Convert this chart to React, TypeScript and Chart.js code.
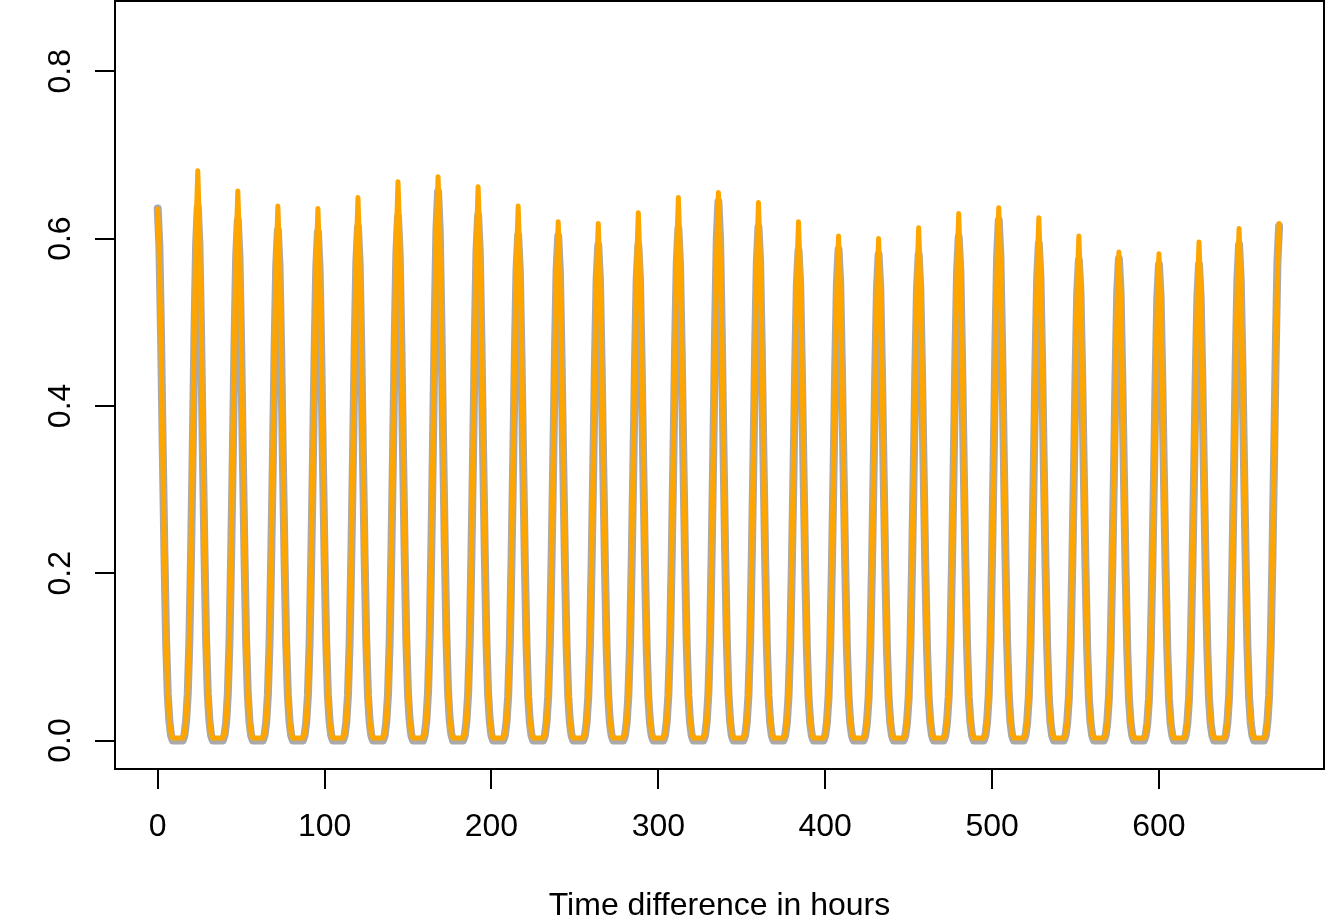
import React, { useEffect, useRef } from "react";
import { Chart, registerables } from "chart.js";

Chart.register(...registerables);

// ---- data ----
const LAST_HOUR = 672;
const xTickValues = [0, 100, 200, 300, 400, 500, 600];
const yTickValues = [0, 0.2, 0.4, 0.6, 0.8];
const yTickLabels = ["0.0", "0.2", "0.4", "0.6", "0.8"];
const xTitle = "Time difference in hours";

// hourly values around each daily peak (peak hour = 24 * row index),
// each row covers hours peak-8 ... peak+8; other hours sit at the trough value
const orangeTrough = 0.003;
const orangeRows: number[][] = [
  [0.008, 0.025, 0.057, 0.121, 0.222, 0.343, 0.470, 0.575, 0.635, 0.575, 0.470, 0.343, 0.222, 0.121, 0.057, 0.025, 0.008],
  [0.008, 0.027, 0.061, 0.129, 0.238, 0.368, 0.504, 0.616, 0.681, 0.616, 0.504, 0.368, 0.238, 0.129, 0.061, 0.027, 0.008],
  [0.008, 0.026, 0.059, 0.125, 0.230, 0.355, 0.486, 0.595, 0.657, 0.595, 0.486, 0.355, 0.230, 0.125, 0.059, 0.026, 0.008],
  [0.008, 0.026, 0.058, 0.121, 0.224, 0.345, 0.473, 0.578, 0.639, 0.578, 0.473, 0.345, 0.224, 0.121, 0.058, 0.026, 0.008],
  [0.008, 0.025, 0.057, 0.121, 0.223, 0.343, 0.471, 0.576, 0.636, 0.576, 0.471, 0.343, 0.223, 0.121, 0.057, 0.025, 0.008],
  [0.008, 0.026, 0.058, 0.123, 0.227, 0.350, 0.480, 0.587, 0.649, 0.587, 0.480, 0.350, 0.227, 0.123, 0.058, 0.026, 0.008],
  [0.008, 0.027, 0.060, 0.127, 0.234, 0.361, 0.494, 0.605, 0.668, 0.605, 0.494, 0.361, 0.234, 0.127, 0.060, 0.027, 0.008],
  [0.008, 0.027, 0.061, 0.128, 0.236, 0.364, 0.499, 0.610, 0.674, 0.610, 0.499, 0.364, 0.236, 0.128, 0.061, 0.027, 0.008],
  [0.008, 0.026, 0.060, 0.126, 0.232, 0.357, 0.490, 0.599, 0.662, 0.599, 0.490, 0.357, 0.232, 0.126, 0.060, 0.026, 0.008],
  [0.008, 0.026, 0.058, 0.121, 0.224, 0.345, 0.473, 0.578, 0.639, 0.578, 0.473, 0.345, 0.224, 0.121, 0.058, 0.026, 0.008],
  [0.007, 0.025, 0.056, 0.118, 0.217, 0.335, 0.459, 0.561, 0.620, 0.561, 0.459, 0.335, 0.217, 0.118, 0.056, 0.025, 0.007],
  [0.007, 0.025, 0.056, 0.117, 0.216, 0.334, 0.457, 0.559, 0.618, 0.559, 0.457, 0.334, 0.216, 0.117, 0.056, 0.025, 0.007],
  [0.008, 0.025, 0.057, 0.120, 0.221, 0.341, 0.467, 0.571, 0.631, 0.571, 0.467, 0.341, 0.221, 0.120, 0.057, 0.025, 0.008],
  [0.008, 0.026, 0.058, 0.123, 0.227, 0.350, 0.480, 0.587, 0.649, 0.587, 0.480, 0.350, 0.227, 0.123, 0.058, 0.026, 0.008],
  [0.008, 0.026, 0.059, 0.124, 0.229, 0.354, 0.485, 0.593, 0.655, 0.593, 0.485, 0.354, 0.229, 0.124, 0.059, 0.026, 0.008],
  [0.008, 0.026, 0.058, 0.122, 0.225, 0.347, 0.476, 0.582, 0.643, 0.582, 0.476, 0.347, 0.225, 0.122, 0.058, 0.026, 0.008],
  [0.007, 0.025, 0.056, 0.118, 0.217, 0.335, 0.459, 0.561, 0.620, 0.561, 0.459, 0.335, 0.217, 0.118, 0.056, 0.025, 0.007],
  [0.007, 0.024, 0.054, 0.115, 0.211, 0.326, 0.446, 0.546, 0.603, 0.546, 0.446, 0.326, 0.211, 0.115, 0.054, 0.024, 0.007],
  [0.007, 0.024, 0.054, 0.114, 0.210, 0.324, 0.444, 0.543, 0.600, 0.543, 0.444, 0.324, 0.210, 0.114, 0.054, 0.024, 0.007],
  [0.007, 0.025, 0.055, 0.116, 0.215, 0.331, 0.454, 0.555, 0.613, 0.555, 0.454, 0.331, 0.215, 0.116, 0.055, 0.025, 0.007],
  [0.008, 0.025, 0.057, 0.120, 0.221, 0.340, 0.466, 0.570, 0.630, 0.570, 0.466, 0.340, 0.221, 0.120, 0.057, 0.025, 0.008],
  [0.008, 0.025, 0.057, 0.121, 0.223, 0.344, 0.471, 0.576, 0.637, 0.576, 0.471, 0.344, 0.223, 0.121, 0.057, 0.025, 0.008],
  [0.008, 0.025, 0.056, 0.119, 0.219, 0.338, 0.463, 0.566, 0.625, 0.566, 0.463, 0.338, 0.219, 0.119, 0.056, 0.025, 0.008],
  [0.007, 0.024, 0.054, 0.115, 0.211, 0.326, 0.446, 0.546, 0.603, 0.546, 0.446, 0.326, 0.211, 0.115, 0.054, 0.024, 0.007],
  [0.007, 0.023, 0.053, 0.111, 0.204, 0.315, 0.432, 0.529, 0.584, 0.529, 0.432, 0.315, 0.204, 0.111, 0.053, 0.023, 0.007],
  [0.007, 0.023, 0.052, 0.111, 0.204, 0.314, 0.431, 0.527, 0.582, 0.527, 0.431, 0.314, 0.204, 0.111, 0.052, 0.023, 0.007],
  [0.007, 0.024, 0.054, 0.113, 0.209, 0.322, 0.441, 0.539, 0.596, 0.539, 0.441, 0.322, 0.209, 0.113, 0.054, 0.024, 0.007],
  [0.007, 0.024, 0.055, 0.116, 0.214, 0.330, 0.453, 0.554, 0.612, 0.554, 0.453, 0.330, 0.214, 0.116, 0.055, 0.024, 0.007],
  [0.007, 0.025, 0.056, 0.117, 0.216, 0.334, 0.457, 0.559, 0.618, 0.559, 0.457, 0.334, 0.216, 0.117, 0.056, 0.025, 0.007],
];

const grayTrough = 0;
const grayRows: number[][] = [
  [0.006, 0.023, 0.056, 0.121, 0.226, 0.350, 0.483, 0.591, 0.636, 0.591, 0.483, 0.350, 0.226, 0.121, 0.056, 0.023, 0.006],
  [0.006, 0.023, 0.056, 0.121, 0.226, 0.351, 0.485, 0.593, 0.638, 0.593, 0.485, 0.351, 0.226, 0.121, 0.056, 0.023, 0.006],
  [0.006, 0.022, 0.055, 0.118, 0.221, 0.342, 0.473, 0.578, 0.622, 0.578, 0.473, 0.342, 0.221, 0.118, 0.055, 0.022, 0.006],
  [0.006, 0.022, 0.054, 0.116, 0.217, 0.336, 0.464, 0.567, 0.610, 0.567, 0.464, 0.336, 0.217, 0.116, 0.054, 0.022, 0.006],
  [0.006, 0.022, 0.054, 0.116, 0.216, 0.334, 0.462, 0.565, 0.608, 0.565, 0.462, 0.334, 0.216, 0.116, 0.054, 0.022, 0.006],
  [0.006, 0.022, 0.054, 0.117, 0.218, 0.338, 0.467, 0.571, 0.614, 0.571, 0.467, 0.338, 0.218, 0.117, 0.054, 0.022, 0.006],
  [0.006, 0.023, 0.055, 0.119, 0.222, 0.344, 0.476, 0.582, 0.626, 0.582, 0.476, 0.344, 0.222, 0.119, 0.055, 0.023, 0.006],
  [0.007, 0.024, 0.058, 0.125, 0.233, 0.361, 0.499, 0.610, 0.656, 0.610, 0.499, 0.361, 0.233, 0.125, 0.058, 0.024, 0.007],
  [0.006, 0.023, 0.055, 0.119, 0.223, 0.345, 0.477, 0.584, 0.628, 0.584, 0.477, 0.345, 0.223, 0.119, 0.055, 0.023, 0.006],
  [0.006, 0.022, 0.053, 0.115, 0.214, 0.332, 0.459, 0.562, 0.604, 0.562, 0.459, 0.332, 0.214, 0.115, 0.053, 0.022, 0.006],
  [0.006, 0.022, 0.053, 0.115, 0.214, 0.332, 0.458, 0.561, 0.603, 0.561, 0.458, 0.332, 0.214, 0.115, 0.053, 0.022, 0.006],
  [0.006, 0.021, 0.052, 0.112, 0.210, 0.326, 0.450, 0.551, 0.592, 0.551, 0.450, 0.326, 0.210, 0.112, 0.052, 0.021, 0.006],
  [0.006, 0.021, 0.052, 0.112, 0.210, 0.326, 0.450, 0.551, 0.592, 0.551, 0.450, 0.326, 0.210, 0.112, 0.052, 0.021, 0.006],
  [0.006, 0.022, 0.054, 0.116, 0.217, 0.337, 0.465, 0.569, 0.612, 0.569, 0.465, 0.337, 0.217, 0.116, 0.054, 0.022, 0.006],
  [0.006, 0.023, 0.057, 0.122, 0.229, 0.354, 0.489, 0.599, 0.644, 0.599, 0.489, 0.354, 0.229, 0.122, 0.057, 0.023, 0.006],
  [0.006, 0.022, 0.054, 0.117, 0.218, 0.338, 0.467, 0.571, 0.614, 0.571, 0.467, 0.338, 0.218, 0.117, 0.054, 0.022, 0.006],
  [0.006, 0.021, 0.052, 0.111, 0.208, 0.322, 0.445, 0.545, 0.586, 0.545, 0.445, 0.322, 0.208, 0.111, 0.052, 0.021, 0.006],
  [0.006, 0.021, 0.052, 0.112, 0.208, 0.323, 0.446, 0.546, 0.587, 0.546, 0.446, 0.323, 0.208, 0.112, 0.052, 0.021, 0.006],
  [0.006, 0.021, 0.051, 0.110, 0.206, 0.320, 0.442, 0.540, 0.581, 0.540, 0.442, 0.320, 0.206, 0.110, 0.051, 0.021, 0.006],
  [0.006, 0.021, 0.051, 0.110, 0.206, 0.320, 0.442, 0.540, 0.581, 0.540, 0.442, 0.320, 0.206, 0.110, 0.051, 0.021, 0.006],
  [0.006, 0.022, 0.053, 0.114, 0.214, 0.331, 0.458, 0.560, 0.602, 0.560, 0.458, 0.331, 0.214, 0.114, 0.053, 0.022, 0.006],
  [0.006, 0.022, 0.055, 0.118, 0.221, 0.342, 0.473, 0.578, 0.622, 0.578, 0.473, 0.342, 0.221, 0.118, 0.055, 0.022, 0.006],
  [0.006, 0.021, 0.052, 0.113, 0.211, 0.327, 0.451, 0.552, 0.594, 0.552, 0.451, 0.327, 0.211, 0.113, 0.052, 0.021, 0.006],
  [0.006, 0.021, 0.051, 0.109, 0.204, 0.316, 0.436, 0.534, 0.574, 0.534, 0.436, 0.316, 0.204, 0.109, 0.051, 0.021, 0.006],
  [0.006, 0.021, 0.051, 0.109, 0.204, 0.317, 0.438, 0.536, 0.576, 0.536, 0.438, 0.317, 0.204, 0.109, 0.051, 0.021, 0.006],
  [0.006, 0.020, 0.050, 0.108, 0.202, 0.313, 0.432, 0.529, 0.569, 0.529, 0.432, 0.313, 0.202, 0.108, 0.050, 0.020, 0.006],
  [0.006, 0.020, 0.050, 0.108, 0.202, 0.313, 0.432, 0.529, 0.569, 0.529, 0.432, 0.313, 0.202, 0.108, 0.050, 0.020, 0.006],
  [0.006, 0.021, 0.052, 0.113, 0.211, 0.326, 0.451, 0.551, 0.593, 0.551, 0.451, 0.326, 0.211, 0.113, 0.052, 0.021, 0.006],
  [0.006, 0.022, 0.054, 0.117, 0.218, 0.338, 0.467, 0.572, 0.615, 0.572, 0.467, 0.338, 0.218, 0.117, 0.054, 0.022, 0.006],
];

const ROW_HALF = 8;

function buildSeries(rows: number[][], trough: number) {
  const pts: { x: number; y: number }[] = [];
  for (let h = 0; h <= LAST_HOUR; h++) {
    const d = Math.round(h / 24);
    const off = h - 24 * d;
    const row = rows[d];
    const v = row && Math.abs(off) <= ROW_HALF ? row[off + ROW_HALF] : trough;
    pts.push({ x: h, y: v });
  }
  return pts;
}

const FONT = '"Liberation Sans", Arial, Helvetica, sans-serif';
const FONT_SIZE = 32;

const framePlugin = {
  id: "rframe",
  afterDraw(chart: any) {
    const { ctx, chartArea } = chart;
    const yScale = chart.scales.y;
    ctx.save();
    // box
    ctx.strokeStyle = "#000";
    ctx.lineWidth = 2;
    ctx.strokeRect(chartArea.left, chartArea.top, chartArea.right - chartArea.left, chartArea.bottom - chartArea.top);
    // y tick labels (rotated, parallel to axis)
    ctx.fillStyle = "#000";
    ctx.font = `${FONT_SIZE}px ${FONT}`;
    ctx.textAlign = "center";
    ctx.textBaseline = "alphabetic";
    yTickValues.forEach((v, i) => {
      const py = yScale.getPixelForValue(v);
      ctx.save();
      ctx.translate(chartArea.left - 45, py);
      ctx.rotate(-Math.PI / 2);
      ctx.fillText(yTickLabels[i], 0, 0);
      ctx.restore();
    });
    // x axis title
    ctx.fillText(xTitle, (chartArea.left + chartArea.right) / 2, 915);
    ctx.restore();
  },
};

export default function App() {
  const ref = useRef<HTMLCanvasElement | null>(null);

  useEffect(() => {
    document.body.style.margin = "0";
    const canvas = ref.current;
    if (!canvas) return;
    const chart = new Chart(canvas, {
      type: "line",
      data: {
        datasets: [
          {
            label: "orange",
            data: buildSeries(orangeRows, orangeTrough),
            borderColor: "#FFA500",
            borderWidth: 5,
            pointRadius: 0,
            tension: 0,
            fill: false,
            borderJoinStyle: "round",
            borderCapStyle: "round",
          },
          {
            label: "gray",
            data: buildSeries(grayRows, grayTrough),
            borderColor: "#A9A9A9",
            borderWidth: 8,
            pointRadius: 0,
            tension: 0,
            fill: false,
            borderJoinStyle: "round",
            borderCapStyle: "round",
          },
        ],
      },
      options: {
        animation: false,
        responsive: false,
        devicePixelRatio: 1,
        parsing: false,
        normalized: true,
        layout: { padding: { left: 0, right: 1, top: 1, bottom: 0 } },
        plugins: {
          legend: { display: false },
          tooltip: { enabled: false },
          title: { display: false },
        },
        events: [],
        scales: {
          x: {
            type: "linear",
            min: -25.6,
            max: 698.9,
            afterBuildTicks: (scale: any) => {
              scale.ticks = xTickValues.map((v) => ({ value: v }));
            },
            afterFit: (scale: any) => {
              scale.height = 147;
            },
            ticks: {
              autoSkip: false,
              maxRotation: 0,
              minRotation: 0,
              padding: 19,
              color: "#000",
              font: { family: FONT, size: FONT_SIZE },
              callback: (v: any) => String(v),
            },
            grid: {
              display: true,
              drawOnChartArea: false,
              drawTicks: true,
              tickLength: 20,
              color: "#000",
              lineWidth: 2,
            },
            border: { display: false },
          },
          y: {
            type: "linear",
            min: -0.034,
            max: 0.884,
            afterBuildTicks: (scale: any) => {
              scale.ticks = yTickValues.map((v) => ({ value: v }));
            },
            afterFit: (scale: any) => {
              scale.width = 115;
            },
            ticks: { display: false },
            grid: {
              display: true,
              drawOnChartArea: false,
              drawTicks: true,
              tickLength: 20,
              color: "#000",
              lineWidth: 2,
            },
            border: { display: false },
          },
        },
      },
      plugins: [framePlugin],
    } as any);
    return () => chart.destroy();
  }, []);

  return (
    <div style={{ width: 1325, height: 916, background: "#fff" }}>
      <canvas ref={ref} width={1325} height={916} style={{ display: "block" }} />
    </div>
  );
}
